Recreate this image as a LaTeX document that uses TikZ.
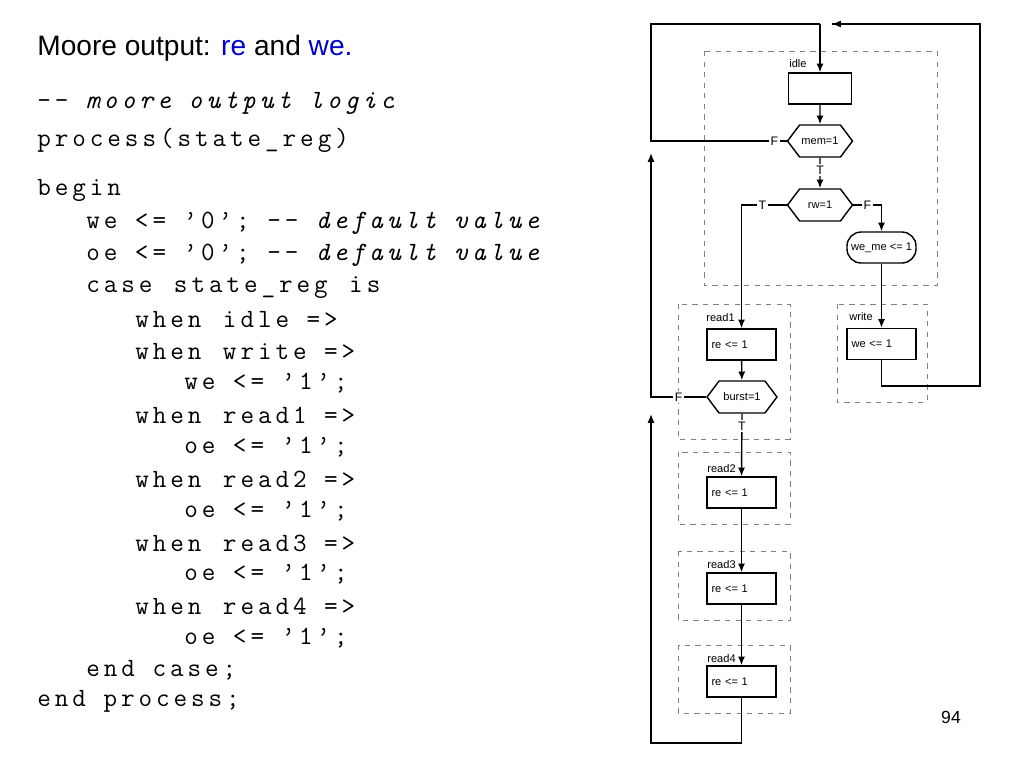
\documentclass[tikz,border=0pt]{standalone}
\usepackage{fontspec}
\setsansfont{Liberation Sans}
\setmonofont[LetterSpace=15]{Latin Modern Mono}
\usetikzlibrary{shapes.symbols,arrows.meta}
\newcommand\q{\textquoteright}
\begin{document}
\begin{tikzpicture}[x=0.02cm,y=-0.02cm,
  flow/.style={thick,-{Latex[length=5pt,width=4pt]}},
  wire/.style={thick},
  statebox/.style={draw,dashed,gray,thin},
  opbox/.style={draw,thick,minimum width=1.38cm,minimum height=0.62cm,inner sep=0pt,font=\sffamily\fontsize{6.3}{7}\selectfont},
  cond/.style={draw,thick,shape=signal,signal to=east and west,signal pointer angle=106,minimum width=1.3cm,minimum height=0.64cm,inner sep=0pt,font=\sffamily\fontsize{6.3}{7}\selectfont},
  lbl/.style={fill=white,inner sep=1pt,font=\sffamily\fontsize{7}{8}\selectfont},
  slbl/.style={anchor=west,inner sep=0pt,font=\sffamily\fontsize{6.3}{7}\selectfont},
  code/.style={anchor=west,inner sep=0pt,font=\ttfamily\fontsize{15}{16}\selectfont}]
  \useasboundingbox (0,0) rectangle (1024,768);
  % title
  \node[anchor=west,inner sep=0pt,font=\sffamily\fontsize{16}{18}\selectfont] (title) at (37,48)
    {Moore output: \textcolor{blue!80!black}{re} and \textcolor{blue!80!black}{we.}};
  % vhdl code
  \node[code] (c1) at (37,103) {-{}- \itshape moore output logic};
  \node[code] (c2) at (37,140) {\bfseries process\mdseries(state\_reg)};
  \node[code] (c3) at (37,190) {\bfseries begin};
  \node[code] (c4) at (86,223) {we <= \q0\q; -{}- \itshape default value};
  \node[code] (c5) at (86,255) {oe <= \q0\q;  -{}- \itshape default value};
  \node[code] (c6) at (86,288) {\textbf{case} state\_reg \textbf{is}};
  \node[code] (c7) at (135,320) {\textbf{when} idle =>};
  \node[code] (c8) at (135,352) {\textbf{when} write =>};
  \node[code] (c9) at (184,383) {we <= \q1\q;};
  \node[code] (c10) at (135,415) {\textbf{when} read1 =>};
  \node[code] (c11) at (184,447) {oe <= \q1\q;};
  \node[code] (c12) at (135,479) {\textbf{when} read2 =>};
  \node[code] (c13) at (184,511) {oe <= \q1\q;};
  \node[code] (c14) at (135,543) {\textbf{when} read3 =>};
  \node[code] (c15) at (184,574) {oe <= \q1\q;};
  \node[code] (c16) at (135,606) {\textbf{when} read4 =>};
  \node[code] (c17) at (184,638) {oe <= \q1\q;};
  \node[code] (c18) at (86,670) {\bfseries end case;};
  \node[code] (c19) at (37,701) {\bfseries end process;};
  % state regions
  \draw[statebox] (704,51) rectangle (937,285);
  \draw[statebox] (837,304) rectangle (927,402);
  \draw[statebox] (678,304) rectangle (790,439);
  \draw[statebox] (678,452) rectangle (790,524);
  \draw[statebox] (678,551) rectangle (790,620);
  \draw[statebox] (678,645) rectangle (790,713);
  \node[slbl] (lidle) at (789,64) {idle};
  \node[slbl] (lwrite) at (849,317) {write};
  \node[slbl] (lr1) at (706,318) {read1};
  \node[slbl] (lr2) at (707,469) {read2};
  \node[slbl] (lr3) at (707,565) {read3};
  \node[slbl] (lr4) at (707,659) {read4};
  % boxes and conditions
  \node[opbox,minimum width=1.26cm] (idle) at (820,88.5) {};
  \node[cond] (mem) at (820,141) {mem=1};
  \node[cond] (rw) at (820,205) {rw=1};
  \node[draw,thick,rounded corners=8pt,minimum width=1.38cm,minimum height=0.62cm,inner sep=0pt,
    font=\sffamily\fontsize{6.3}{7}\selectfont] (weme) at (881.5,247.5) {we\_me <= 1};
  \node[opbox,text width=1.2cm] (we) at (881.5,344) {we <= 1};
  \node[opbox,text width=1.2cm] (r1) at (741.5,344.5) {re <= 1};
  \node[cond,minimum width=1.4cm] (burst) at (742,397) {burst=1};
  \node[opbox,text width=1.2cm] (r2) at (741.5,492.5) {re <= 1};
  \node[opbox,text width=1.2cm] (r3) at (741.5,588.5) {re <= 1};
  \node[opbox,text width=1.2cm] (r4) at (741.5,681.5) {re <= 1};
  \coordinate (topin) at (820,24);
  \coordinate (topret) at (832,24);
  % connectors
  \draw[flow] (idle) -- (mem);
  \draw[flow] (mem) -- node[lbl,pos=0.4] {T} (rw);
  \draw[flow] (rw.west) -| node[lbl,pos=0.27] {T} (r1.north);
  \draw[flow] (rw.east) -| node[lbl,pos=0.25] {F} (weme.north);
  \draw[flow] (weme) -- (we);
  \draw[wire] (mem.west) -- node[lbl,pos=0.09] {F} (651,141) |- (topin);
  \draw[flow] (topin) -- (idle.north);
  \draw[wire] (we.south) |- (980,386) |- (topret);
  \draw[flow] (980,24) -- (topret);
  \draw[flow] (r1) -- (burst);
  \draw[flow] (burst.west) -- node[lbl,pos=0.5] {F} (651,397) -- (651,153);
  \draw[flow] (burst.south) -- node[lbl,pos=0.2] {T} (r2.north);
  \draw[flow] (r2) -- (r3);
  \draw[flow] (r3) -- (r4);
  \draw[flow] (r4.south) |- (651,743) -- (651,414);
  % page number
  \node[inner sep=0pt,font=\sffamily\fontsize{10}{12}\selectfont] (page) at (951,717) {94};
\end{tikzpicture}
\end{document}
